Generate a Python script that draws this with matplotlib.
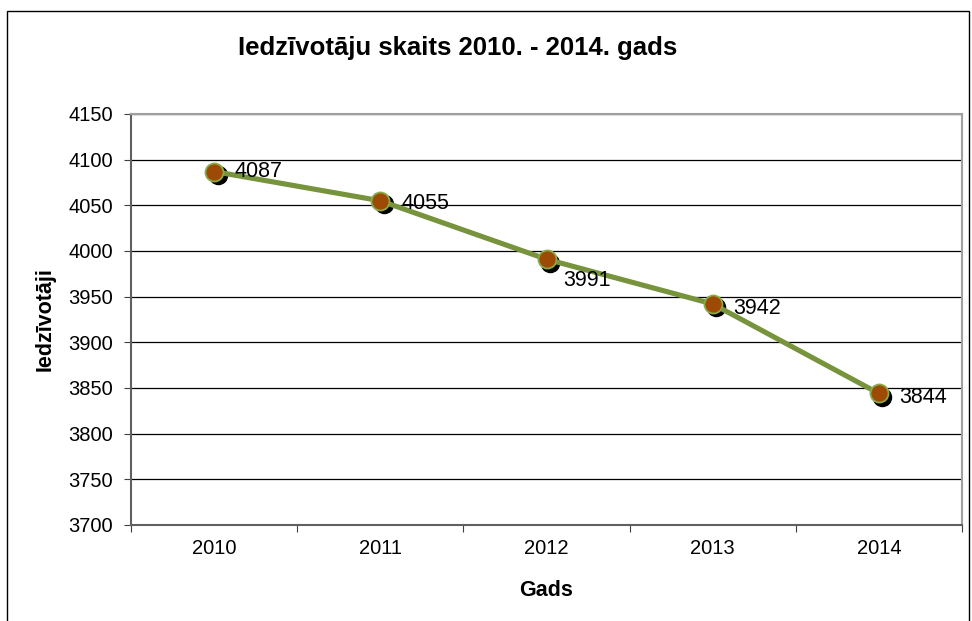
import numpy as np
import matplotlib.pyplot as plt
from matplotlib import transforms
from matplotlib.patches import Rectangle

years = ["2010", "2011", "2012", "2013", "2014"]
residents = [4087, 4055, 3991, 3942, 3844]
yticks = [3700, 3750, 3800, 3850, 3900, 3950, 4000, 4050, 4100, 4150]

plt.rcParams['font.family'] = ['Liberation Sans', 'DejaVu Sans']

fig = plt.figure(figsize=(9.72, 6.21), dpi=100)
ax = fig.add_axes([131/972, 96/621, 831/972, 411/621])

x = np.arange(len(years))

# shadow under markers (offset down-right)
shadow = transforms.offset_copy(ax.transData, fig=fig, x=3.5, y=-3.5, units='dots')
ax.plot(x, residents, 'o', color='black', markersize=13, transform=shadow, zorder=3)
ax.plot(x, residents, color='#77933C', lw=3.7, zorder=4)
ax.plot(x, residents, 'o', markersize=13, markerfacecolor='#9C4A06',
        markeredgecolor='#8AAA48', markeredgewidth=1.3, lw=0, zorder=5)

# data labels
offs = [(15, 0), (15, -2), (12, -15), (15, -3), (15, -3)]
for xi, yi, (dx, dy) in zip(x, residents, offs):
    ax.annotate(str(yi), (xi, yi), xytext=(dx, dy), textcoords='offset points',
                fontsize=15.5, va='center', ha='left', zorder=6)

ax.set_ylim(3700, 4150)
ax.set_yticks(yticks)
ax.set_xlim(-0.5, len(years) - 0.5)
ax.set_xticks(np.arange(len(years) + 1) - 0.5)
ax.set_xticklabels([])
ax.set_xticks(x, minor=True)
ax.set_xticklabels(years, minor=True)
ax.tick_params(axis='x', which='minor', length=0, pad=10, labelsize=14.5)
ax.tick_params(axis='x', which='major', length=5, direction='out', color='#404040')
ax.tick_params(axis='y', length=5, direction='out', color='#404040', labelsize=14.5, pad=8)

ax.grid(axis='y', color='black', lw=0.9)
ax.set_axisbelow(True)
for s in ['left', 'bottom']:
    ax.spines[s].set_color('#606060')
    ax.spines[s].set_linewidth(1.5)
for s in ['top', 'right']:
    ax.spines[s].set_color('#A0A0A0')
    ax.spines[s].set_linewidth(1.5)

ax.set_xlabel("Gads", fontsize=15.5, fontweight='bold', labelpad=16)
ax.set_ylabel("Iedzīvotāji", fontsize=15.5, fontweight='bold', labelpad=9)
fig.text(458/972, 1 - 48/621, "Iedzīvotāju skaits 2010. - 2014. gads",
         fontsize=18.5, fontweight='bold', ha='center', va='center')

# outer chart frame
fig.patches.append(Rectangle((7/972, -0.05), 962/972, 1.05 - 11/621, transform=fig.transFigure,
                             fill=False, edgecolor='black', lw=1))

fig.savefig("out.png", dpi=100)
